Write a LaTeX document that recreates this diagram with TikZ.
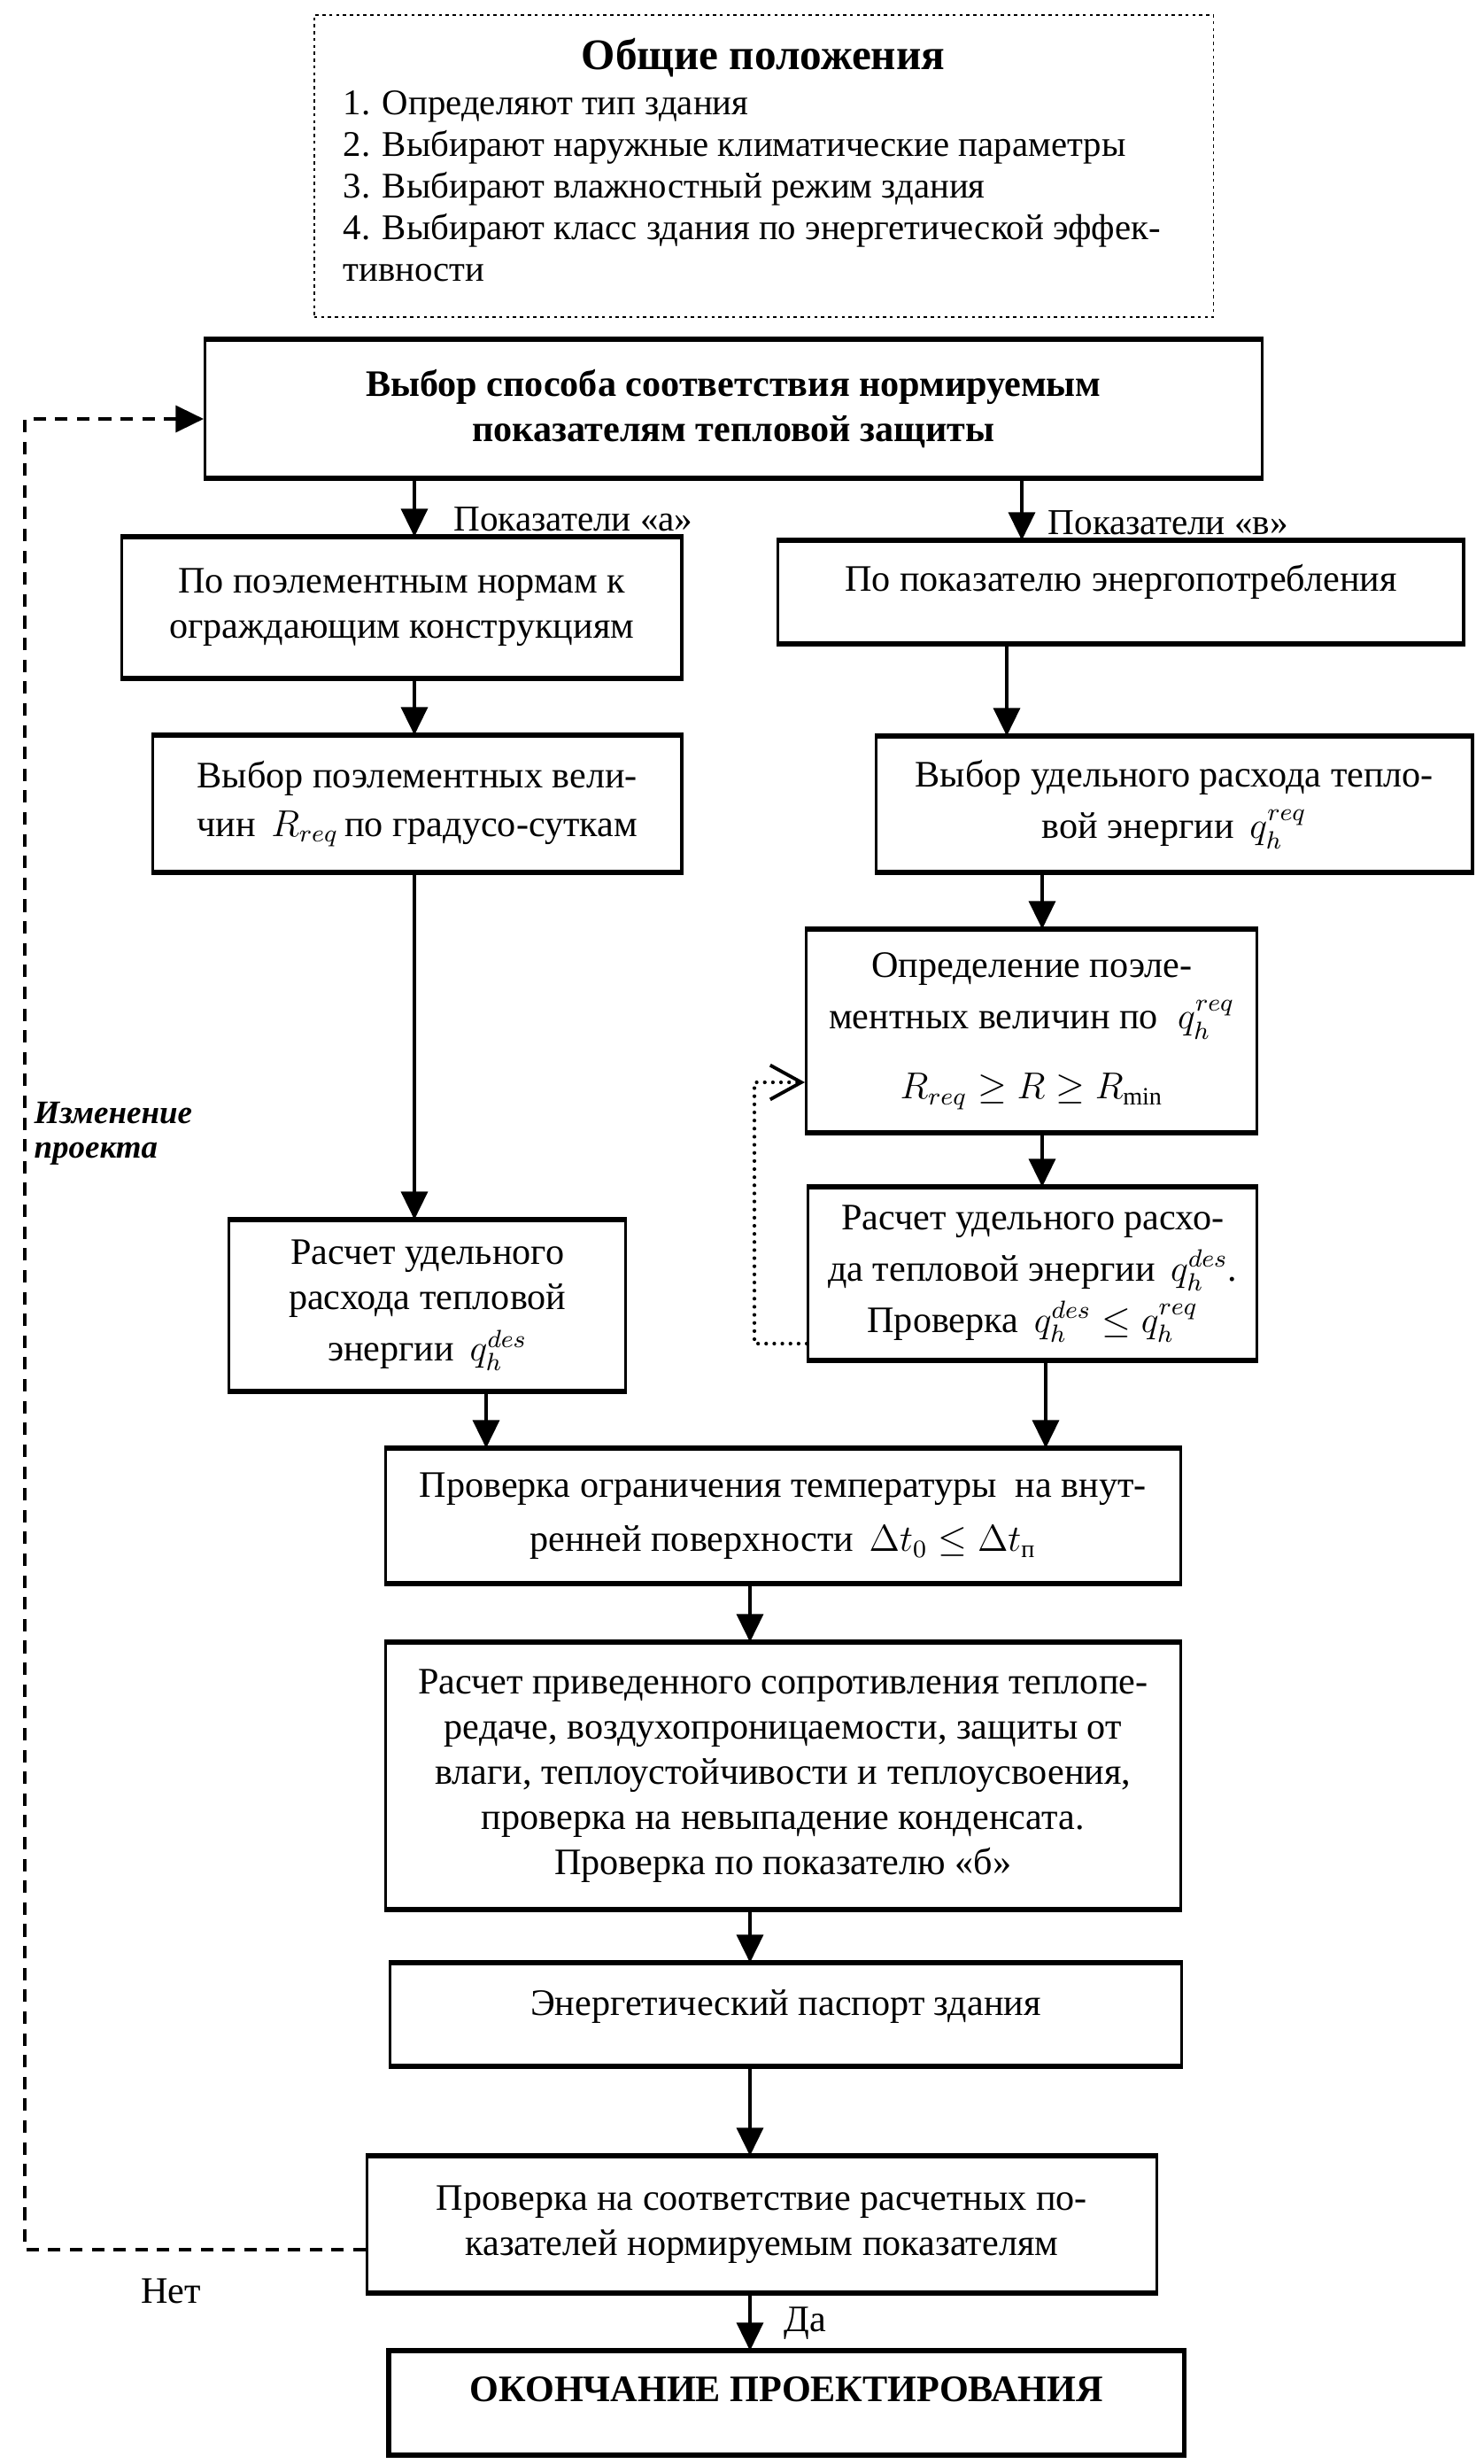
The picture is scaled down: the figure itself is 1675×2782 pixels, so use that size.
\documentclass[tikz,border=0pt]{standalone}
\usepackage{amsmath}
\usepackage{fontspec}
\setmainfont{Liberation Serif}
\usetikzlibrary{arrows.meta}
\tikzset{
  box/.style={draw, line width=0.9pt, inner sep=0pt, align=center, font=\fontsize{12}{14.5}\selectfont},
  edge/.style={line width=1.5pt},
  arr/.style={line width=1.1pt, -{Triangle[length=9pt,width=8.5pt]}},
  dashloop/.style={line width=0.9pt, dash pattern=on 4pt off 3pt},
  dotloop/.style={line width=1.2pt, line cap=round, dash pattern=on 0pt off 2.6pt},
  lbl/.style={font=\fontsize{11.7}{13}\selectfont, inner sep=0pt},
  item/.style={font=\fontsize{11.6}{14}\selectfont, inner sep=0pt, anchor=base west}
}
\newcommand\mkbox[7][]{%
  \node[box, anchor=north west, minimum width=\fpeval{(#5-#3)/100}cm, minimum height=\fpeval{(#6-#4)/100}cm, #1] (#2) at (#3,#4) {#7};
  \draw[edge] (#2.north west) -- (#2.north east) (#2.south west) -- (#2.south east);}
\newcommand\qsym[1]{q_h^{#1}}
\begin{document}
\begin{tikzpicture}[x=0.01cm, y=-0.01cm]
\useasboundingbox (0,0) rectangle (1675,2782);
% top dotted box
\node[draw, line width=0.5pt, dash pattern=on 1pt off 1.2pt, anchor=north west, inner sep=0pt,
      minimum width=10.15cm, minimum height=3.41cm] (tb) at (354,16) {};
\node[font=\fontsize{14}{16}\selectfont\bfseries, anchor=base, inner sep=0pt] (tt) at (862,79) {Общие положения};
\node[item] (t1) at (387,130) {1. Определяют тип здания};
\node[item] (t2) at (387,177) {2. Выбирают наружные климатические параметры};
\node[item] (t3) at (387,224) {3. Выбирают влажностный режим здания};
\node[item] (t4) at (387,271) {4. Выбирают класс здания по энергетической эффек-};
\node[item] (t5) at (387,318) {тивности};

\mkbox{b0}{230}{383}{1423}{537}{\bfseries Выбор способа соответствия нормируемым\\\bfseries показателям тепловой защиты}
\mkbox{ba}{136}{606}{768}{763}{По поэлементным нормам к\\ограждающим конструкциям}
\mkbox[text depth=9.5pt]{bv}{877}{610}{1651}{724}{По показателю энергопотребления}
\mkbox{ba2}{171}{830}{768}{982}{Выбор поэлементных вели-\\[1pt]чин \,$R_{req}$\,по градусо-суткам}
\mkbox{bv2}{988}{831}{1661}{982}{Выбор удельного расхода тепло-\\[2pt]вой энергии \,$\qsym{req}$}
\mkbox{bv3}{909}{1049}{1418}{1276}{Определение поэле-\\[2pt]ментных величин по \;$\qsym{req}$\\[8pt]$R_{req}\ge R\ge R_{\min}$}
\mkbox{bv4}{911}{1340}{1418}{1533}{Расчет удельного расхо-\\[2pt]да тепловой энергии \,$\qsym{des}$.\\[2pt]Проверка \,$\qsym{des}\le \qsym{req}$}
\mkbox{ba3}{257}{1377}{705}{1568}{Расчет удельного\\расхода тепловой\\[2pt]энергии \,$\qsym{des}$}
\mkbox{c1}{434}{1635}{1331}{1785}{Проверка ограничения температуры \ на внут-\\[3pt]ренней поверхности \,$\Delta t_0\le \Delta t_{\text{п}}$}
\mkbox{c2}{434}{1854}{1331}{2153}{Расчет приведенного сопротивления теплопе-\\редаче, воздухопроницаемости, защиты от\\влаги, теплоустойчивости и теплоусвоения,\\проверка на невыпадение конденсата.\\Проверка по показателю «б»}
\mkbox[text depth=7.5pt]{c3}{439}{2216}{1332}{2330}{Энергетический паспорт здания}
\mkbox{c4}{413}{2434}{1304}{2586}{Проверка на соответствие расчетных по-\\казателей нормируемым показателям}
\mkbox[text depth=9pt]{c5}{439}{2654}{1334}{2769}{\bfseries ОКОНЧАНИЕ ПРОЕКТИРОВАНИЯ}
\draw[line width=1.5pt] (c5.north west) rectangle (c5.south east);

% x positions of connectors
\coordinate (xL) at (468,0);
\coordinate (xR) at (1154,0);
\coordinate (xR2) at (1137,0);
\coordinate (xR3) at (1177,0);
\coordinate (xM) at (549,0);
\coordinate (xN) at (1181,0);
\coordinate (xC) at (847,0);

\draw[arr] (b0.south -| xL) -- (ba.north -| xL);
\draw[arr] (b0.south -| xR) -- (bv.north -| xR);
\draw[arr] (ba.south -| xL) -- (ba2.north -| xL);
\draw[arr] (bv.south -| xR2) -- (bv2.north -| xR2);
\draw[arr] (bv2.south -| xR3) -- (bv3.north -| xR3);
\draw[arr] (bv3.south -| xR3) -- (bv4.north -| xR3);
\draw[arr] (ba2.south -| xL) -- (ba3.north -| xL);
\draw[arr] (ba3.south -| xM) -- (c1.north -| xM);
\draw[arr] (bv4.south -| xN) -- (c1.north -| xN);
\draw[arr] (c1.south -| xC) -- (c2.north -| xC);
\draw[arr] (c2.south -| xC) -- (c3.north -| xC);
\draw[arr] (c3.south -| xC) -- (c4.north -| xC);
\draw[arr] (c4.south -| xC) -- (c5.north -| xC);

% labels
\node[lbl, anchor=west] (la) at (512,586) {Показатели «а»};
\node[lbl, anchor=west] (lv) at (1183,590) {Показатели «в»};
\node[lbl, font=\fontsize{12}{14}\selectfont] (lno) at (193,2587) {Нет};
\node[lbl, font=\fontsize{12}{14}\selectfont, anchor=west] (lyes) at (885,2623) {Да};
\node[lbl, font=\fontsize{10.5}{11}\selectfont\bfseries\itshape, anchor=west, align=left] (lch) at (38,1280) {Изменение\\проекта};

% dotted inner loop
\coordinate (d1) at (852,1517);
\coordinate (d2) at (852,1222);
\draw[dotloop] (bv4.west |- d1) -- (d1) -- (d2) -- (bv3.west |- d2);
\draw[line width=1.1pt, -{Straight Barb[length=10pt,width=11pt,line width=1.1pt]}] ([xshift=-2pt]bv3.west |- d2) -- (bv3.west |- d2);

% dashed outer loop
\coordinate (e1) at (28,2540);
\coordinate (e2) at (28,473);
\draw[dashloop] (c4.west |- e1) -- (e1) -- (e2) -- ([xshift=-9pt]b0.west |- e2);
\draw[arr] ([xshift=-10pt]b0.west |- e2) -- (b0.west |- e2);
\end{tikzpicture}
\end{document}
